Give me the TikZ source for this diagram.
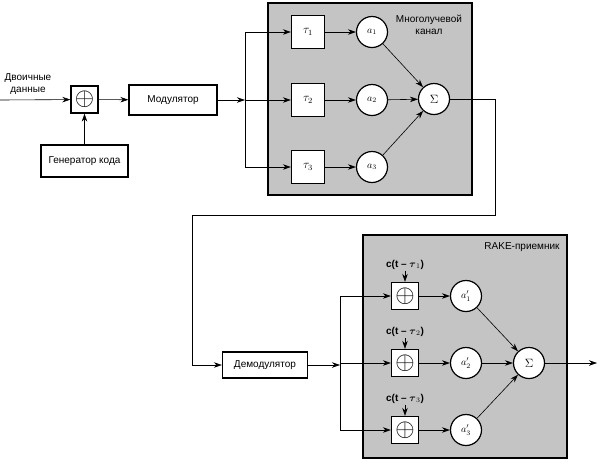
\documentclass[tikz,border=0pt]{standalone}
\usepackage{fontspec}
\usepackage{amsmath}
\setmainfont{Liberation Sans}
\usetikzlibrary{arrows.meta, calc, positioning}
\definecolor{chan}{HTML}{C4C4C4}

\begin{document}
\begin{tikzpicture}[x=1pt, y=-1pt, >={Stealth[length=8pt, width=5.5pt]},
            font=\fontsize{10}{12}\selectfont, semithick,
            box/.style={draw, line width=1.3pt, fill=white, inner sep=0pt},
            sq/.style={box, minimum size=33pt},
            xr/.style={box, minimum size=27pt},
            rnd/.style={circle, draw, line width=1.2pt, fill=white, minimum size=31pt, inner sep=0pt},
            area/.style={draw, line width=1.4pt, fill=chan}]
        \useasboundingbox (0,0) rectangle (600,467);
        % transmitter
        \node(src) at (28,84) [align=center] {Двоичные\\данные};
        \coordinate (in) at (0,100);
        \node(x0) at (84.5,99.5) [xr] {\fontsize{25}{25}\selectfont$\oplus$};
        \node(mod) at (173,100) [box, minimum width=88pt, minimum height=30pt] {Модулятор};
        \node(gen) at (84.5,161) [box, minimum width=87pt, minimum height=32pt] {Генератор кода};
        \draw[->] (in) -- (x0);
        \draw[->] (gen) -- (x0);
        \draw[->] (x0) -- (mod);
        % multipath channel
        \draw[area] (268,3) rectangle (472,195);
        \node at (429,25) [align=center] {Многолучевой\\канал};
        \coordinate (s1) at (245,100);
        \draw[->] (mod) -- (s1);
        \node(sig1) at (434,99) [rnd] {\large$\Sigma$};
        \foreach \i/\y in {1/32, 2/100, 3/167} {
            \node(t\i) at (308,\y) [sq] {\large$\tau_\i$};
            \node(a\i) at (372,\y) [rnd] {$a_\i$};
            \draw[->] (s1 |- t\i) -- (t\i);
            \draw[->] (t\i) -- (a\i);
            \draw[->] (a\i) -- (sig1);
        }
        \draw (s1 |- t1) -- (s1 |- t3);
        % back to the receiver
        \node(dem) at (265,365) [box, minimum width=85pt, minimum height=26pt] {Демодулятор};
        \draw[->] (sig1) -- (495,99) -- (495,215) -- (192,215) |- (dem);
        % RAKE receiver
        \draw[area] (363,235) rectangle (567,458);
        \node at (522,247) {RAKE-приемник};
        \coordinate (s2) at (340,365);
        \draw[->] (dem) -- (s2);
        \node(sig2) at (529,363) [rnd] {\large$\Sigma$};
        \foreach \i/\y in {1/296, 2/363, 3/430} {
            \node(c\i) at (405,\y) [xr] {\fontsize{25}{25}\selectfont$\oplus$};
            \node(r\i) at (466,\y) [rnd] {$a'_\i$};
            \node(ref\i) [above=11pt of c\i, inner sep=1pt] {\bfseries c(t -- $\boldsymbol{\tau}_\i$)};
            \draw[->] (ref\i) -- (c\i);
            \draw[->] (s2 |- c\i) -- (c\i);
            \draw[->] (c\i) -- (r\i);
            \draw[->] (r\i) -- (sig2);
        }
        \draw (s2 |- c1) -- (s2 |- c3);
        \coordinate (out) at (597,363);
        \draw[->] (sig2) -- (out);
    \end{tikzpicture}
\end{document}
